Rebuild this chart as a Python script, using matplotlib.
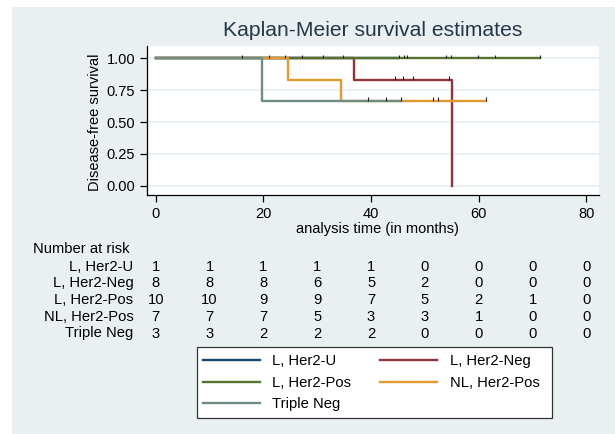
import numpy as np
import matplotlib
matplotlib.use('Agg')
import matplotlib.pyplot as plt
from matplotlib.patches import Rectangle
from matplotlib.lines import Line2D
from matplotlib.transforms import blended_transform_factory

plt.rcParams['font.family'] = ['Liberation Sans', 'DejaVu Sans']

# Follow-up per group (months); event 1 = recurrence, 0 = censored
groups = ["L, Her2-U", "L, Her2-Neg", "L, Her2-Pos", "NL, Her2-Pos", "Triple Neg"]
colors = ["#1a476f", "#90353b", "#55752f", "#e39a2c", "#6e8e84"]

her2u_time = [45.2]
her2u_event = [0]
her2neg_time = [24.1, 27.1, 36.75, 44.5, 46.0, 47.8, 54.4, 55.0]
her2neg_event = [0, 0, 1, 0, 0, 0, 0, 1]
her2pos_time = [16.0, 31.1, 34.8, 46.1, 46.7, 54.0, 54.9, 59.9, 63.1, 71.4]
her2pos_event = [0, 0, 0, 0, 0, 0, 0, 0, 0, 0]
nlher2pos_time = [21.0, 24.6, 34.4, 39.4, 51.5, 52.4, 61.3]
nlher2pos_event = [0, 1, 1, 0, 0, 0, 0]
tripleneg_time = [19.7, 42.8, 45.6]
tripleneg_event = [1, 0, 0]

# Number at risk table
risk_times = [0, 10, 20, 30, 40, 50, 60, 70, 80]
risk_her2u = [1, 1, 1, 1, 1, 0, 0, 0, 0]
risk_her2neg = [8, 8, 8, 6, 5, 2, 0, 0, 0]
risk_her2pos = [10, 10, 9, 9, 7, 5, 2, 1, 0]
risk_nlher2pos = [7, 7, 7, 5, 3, 3, 1, 0, 0]
risk_tripleneg = [3, 3, 2, 2, 2, 0, 0, 0, 0]

x_ticks = [0, 20, 40, 60, 80]
y_ticks = [0.0, 0.25, 0.50, 0.75, 1.00]


def km_steps(times, events):
    order = np.argsort(times)
    t = np.asarray(times, dtype=float)[order]
    e = np.asarray(events)[order]
    n = len(t)
    s = 1.0
    xs, ys = [0.0], [1.0]
    cens_x, cens_y = [], []
    for i, (ti, ei) in enumerate(zip(t, e)):
        at_risk = n - i
        if ei:
            s *= (at_risk - 1) / at_risk
            xs.append(ti)
            ys.append(s)
        else:
            cens_x.append(ti)
            cens_y.append(s)
    if xs[-1] < t[-1]:
        xs.append(t[-1])
        ys.append(s)
    return xs, ys, cens_x, cens_y


BG = "#eaf0f2"
W, H = 615, 434
fig = plt.figure(figsize=(W / 100, H / 100), dpi=100, facecolor="white")
fig.patches.append(Rectangle((12 / W, 0), 1, 1 - 7 / H, transform=fig.transFigure,
                             facecolor=BG, edgecolor="none", zorder=-5))

ax = fig.add_axes([146.7 / W, 1 - 195 / H, (599.3 - 146.7) / W, (195 - 46) / H])
ax.set_zorder(3)
ax.set_facecolor("white")
ax.set_xlim(-1.67, 82.4)
ax.set_ylim(-0.073, 1.097)

for g in y_ticks:
    ax.axhline(g, color=BG, lw=1.6, zorder=1)

series = [(her2u_time, her2u_event), (her2neg_time, her2neg_event),
          (her2pos_time, her2pos_event), (nlher2pos_time, nlher2pos_event),
          (tripleneg_time, tripleneg_event)]

for k, (tt, ee) in enumerate(series):
    xs, ys, cx, cy = km_steps(tt, ee)
    ax.step(xs, ys, where="post", color=colors[k], lw=1.7, zorder=2 + k)
    ax.vlines(cx, np.array(cy), np.array(cy) + 0.028, color="#222222", lw=0.8, zorder=8)

for side in ["top", "right"]:
    ax.spines[side].set_visible(False)
for side in ["left", "bottom"]:
    ax.spines[side].set_color("black")
    ax.spines[side].set_linewidth(0.9)

ax.set_xticks(x_ticks)
ax.set_yticks(y_ticks)
ax.set_yticklabels([f"{v:.2f}" for v in y_ticks])
ax.tick_params(axis="both", direction="out", length=4.8, width=0.9, labelsize=10.5,
               colors="black")
ax.tick_params(axis="y", pad=3.4)
ax.tick_params(axis="x", pad=4.0)

ax.set_ylabel("Disease-free survival", fontsize=10.5)
ax.yaxis.set_label_coords(-0.099, 0.49)
ax.set_xlabel("analysis time (in months)", fontsize=10.5)
ax.xaxis.set_label_coords(0.509, -0.18)

fig.text(373 / W, 1 - 31 / H, "Kaplan-Meier survival estimates", ha="center", va="center",
         fontsize=15.2, color="#24364b")

# Number at risk table under the x axis
trans = blended_transform_factory(ax.transData, fig.transFigure)
fig.text(33.3 / W, 1 - 249 / H, "Number at risk", ha="left", va="center", fontsize=10.6)
risk_rows = [risk_her2u, risk_her2neg, risk_her2pos, risk_nlher2pos, risk_tripleneg]
row_y = [266.7, 283.4, 300.1, 316.8, 333.5]
for name, counts, yy in zip(groups, risk_rows, row_y):
    fig.text(133.3 / W, 1 - yy / H, name, ha="right", va="center", fontsize=10.6)
    for t, c in zip(risk_times, counts):
        ax.text(t, 1 - yy / H, str(c), transform=trans, ha="center", va="center",
                fontsize=10.6, clip_on=False)

# Legend with a white box
fig.patches.append(Rectangle((197 / W, 1 - 417.5 / H), (551.5 - 197) / W, (417.5 - 347.3) / H,
                             transform=fig.transFigure, facecolor="white",
                             edgecolor="#333333", lw=0.9, zorder=1))
handles = [Line2D([], [], color=c, lw=1.7) for c in colors]
order = [0, 2, 4, 1, 3]
leg = fig.legend([handles[i] for i in order], [groups[i] for i in order], ncol=2,
                 loc="upper left", bbox_to_anchor=(203 / W, 1 - 354.0 / H),
                 frameon=False, fontsize=10.6, borderpad=0, borderaxespad=0,
                 handlelength=3.88, handletextpad=0.82, columnspacing=1.98,
                 labelspacing=0.52)
leg.set_zorder(5)

fig.savefig("out.png", dpi=100, facecolor=fig.get_facecolor())
